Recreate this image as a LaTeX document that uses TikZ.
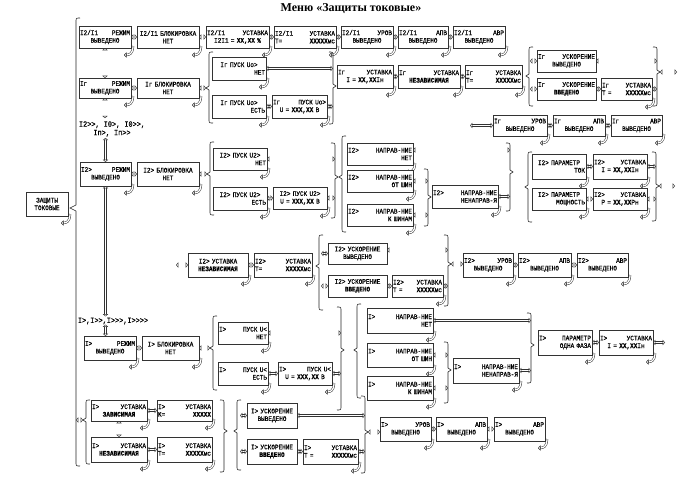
\documentclass[tikz,border=0pt]{standalone}
\usepackage{fontspec}
\setmainfont{Liberation Serif}
\newfontfamily\mono[FakeStretch=0.86,FakeBold=0.5]{Liberation Mono}
\usetikzlibrary{arrows.meta}
\newcommand{\bxfont}{\mono\fontsize{7}{7.6}\selectfont}
\tikzset{
 bx/.style={draw=black!80, line width=0.45pt, fill=white, inner xsep=1pt, inner ysep=0pt, outer sep=0pt, align=center, font=\bxfont},
 dbl/.style={draw=black!80, line width=0.4pt, double=white, double distance=1.7pt, arrows={Triangle[open,length=2.3pt,width=5.4pt,line width=0.4pt]-Triangle[open,length=2.3pt,width=5.4pt,line width=0.4pt]}},
 cdbl/.style={draw=black!85, line width=0.45pt, double=white, double distance=1.3pt, arrows={-Triangle[open,length=2.5pt,width=5pt,line width=0.45pt]}},
 brst/.style={draw=black!85, line width=0.6pt},
 lbl/.style={font=\mono\fontsize{8}{8.5}\selectfont, align=center, inner sep=0pt}
}
\newcommand{\bxn}[7]{%
 \pgfmathsetmacro\bxw{#4-#2}\pgfmathsetmacro\bxh{#5-#3}\pgfmathsetmacro\bxt{#4-#2-2}%
 \node[bx, minimum width=\bxw pt, minimum height=\bxh pt, text width=\bxt pt] (#1) at ({(#2+#4)/2},{(#3+#5)/2}) {#6\\#7};}
\newcommand{\curl}[1]{\draw[cdbl] ([shift={(2,-2)}]#1.south east) .. controls +(0,8) and +(5,0) .. ([shift={(-7,7)}]#1.south east);}
\newcommand{\bxc}[7]{\bxn{#1}{#2}{#3}{#4}{#5}{#6}{#7}\curl{#1}}
\newcommand{\lbrk}[5]{%
 \draw[brst] ({#1+4},#2) .. controls (#1,#2) .. (#1,{#2+4}) -- (#1,{#4-2}) -- ({#1-3},#4) -- (#1,{#4+2}) -- (#1,{#3-4}) .. controls (#1,#3) .. ({#1+4},#3);
 \coordinate (#5) at (#1,#4); \coordinate (#5t) at ({#1-3},#4);}
\newcommand{\rbrk}[5]{%
 \draw[brst] ({#1-4},#2) .. controls (#1,#2) .. (#1,{#2+4}) -- (#1,{#4-2}) -- ({#1+3},#4) -- (#1,{#4+2}) -- (#1,{#3-4}) .. controls (#1,#3) .. ({#1-4},#3);
 \coordinate (#5) at (#1,#4); \coordinate (#5t) at ({#1+3},#4);}
\begin{document}
\begin{tikzpicture}[x=1pt,y=-1pt]
\fill[white] (0,0) rectangle (686,479);
\useasboundingbox (0,0) rectangle (686,479);
\node[font=\bfseries\fontsize{12}{14}\selectfont, inner sep=0pt] (title) at (351,9) {Меню «Защиты токовые»};
% big brace
\draw[brst] (80,18) .. controls (76,18) .. (76,22) -- (76,205) -- (70,208) -- (76,211) -- (76,462) .. controls (76,466) .. (80,466);
\coordinate (bigl) at (76,420);
\bxc{zt}{26}{192}{68}{216}{ЗАЩИТЫ\hspace*{\fill}}{ТОКОВЫЕ\hspace*{\fill}}
% ---- I2/I1 row
\bxc{a1}{79}{26}{131}{48}{I2/I1\hfill РЕЖИМ}{ВЫВЕДЕНО}
\bxc{a2}{137}{26}{199}{48}{I2/I1 БЛОКИРОВКА}{НЕТ}
\bxc{a3}{206}{26}{269}{48}{I2/I1\hfill УСТАВКА}{I2I1 = \textbf{XX,XX} \%}
\bxc{a4}{274}{26}{336}{48}{I2/I1\hfill УСТАВКА}{T=\hfill\textbf{XXXXX}мс}
\bxc{a5}{341}{26}{393}{48}{I2/I1\hfill УРОВ}{ВЫВЕДЕНО}
\bxc{a6}{398}{26}{448}{48}{I2/I1\hfill АПВ}{ВЫВЕДЕНО}
\bxc{a7}{453}{26}{505}{48}{I2/I1\hfill АВР}{ВЫВЕДЕНО}
\foreach \p/\q in {a1/a2,a2/a3,a3/a4,a4/a5,a5/a6,a6/a7} \draw[dbl] (\p.east) -- (\q.west);
% ---- Ir rows
\bxc{b1}{79}{78}{131}{98}{Iг\hfill РЕЖИМ}{ВЫВЕДЕНО}
\bxc{b2}{137}{78}{199}{98}{Iг БЛОКИРОВКА}{НЕТ}
\draw[dbl] (a1.south) -- (b1.north);
\draw[dbl] (b1.east) -- (b2.west);
\lbrk{209}{52}{123}{88}{lb1}
\draw[dbl] (b2.east) -- (lb1t);
\bxc{b3}{212}{57}{266}{80}{Iг ПУСК Uo>}{\hspace*{\fill}НЕТ}
\bxc{b4}{212}{95}{266}{118}{Iг ПУСК Uo>}{\hspace*{\fill}ЕСТЬ}
\bxc{b5}{272}{95}{327}{118}{Iг\hfill ПУСК Uo>}{U = \textbf{XXX,XX} В}
\rbrk{333}{52}{124}{86}{rb1}
\draw[dbl] (b3.east) -- (b3.east -| rb1);
\draw[dbl] (b4.east) -- (b5.west);
\draw[dbl] (b5.east) -- (b5.east -| rb1);
\bxc{b6}{337}{65}{393}{88}{Iг\hfill УСТАВКА}{I = \textbf{XX,XX}Iн}
\bxc{b7}{398}{65}{460}{88}{Iг\hfill УСТАВКА}{\textbf{НЕЗАВИСИМАЯ}}
\bxc{b8}{465}{65}{522}{88}{Iг\hfill УСТАВКА}{T=\hfill\textbf{XXXXX}мс}
\draw[dbl] (b6.east) -- (b7.west);
\draw[dbl] (b7.east) -- (b8.west);
\lbrk{529}{47}{106}{76}{lb2}
\bxn{b9}{537}{50}{596}{72}{Iг\hfill УСКОРЕНИЕ}{ВЫВЕДЕНО}
\bxn{b10}{537}{78}{596}{100}{Iг\hfill УСКОРЕНИЕ}{\textbf{ВВЕДЕНО}}
\bxc{b11}{601}{78}{652}{100}{Iг\hfill УСТАВКА}{T =\hfill\textbf{XXXXX}мс}
\rbrk{657}{47}{106}{72}{rb2}
\draw[dbl] ([xshift=-7pt]b9.west) -- (b9.west);
\draw[dbl] ([xshift=-7pt]b10.west) -- (b10.west);
\draw[dbl] (b9.east) -- (b9.east -| rb2);
\draw[dbl] (b10.east) -- (b11.west);
\draw[dbl] (b11.east) -- (b11.east -| rb2);
\draw[dbl] (rb2t) -- ++(17,0);
\bxc{c1}{493}{115}{547}{136}{Iг\hfill УРОВ}{ВЫВЕДЕНО}
\bxc{c2}{553}{115}{605}{136}{Iг\hfill АПВ}{ВЫВЕДЕНО}
\bxc{c3}{611}{115}{662}{136}{Iг\hfill АВР}{ВЫВЕДЕНО}
\draw[dbl] ([xshift=-23pt]c1.west) -- (c1.west);
\draw[dbl] (c1.east) -- (c2.west);
\draw[dbl] (c2.east) -- (c3.west);
% ---- I2> block
\node[lbl] (t1) at (112,129) {I2>>, I0>, I0>>,\\Iп>, Iп>>};
\draw[dbl, shorten >=3pt] (b1.south) -- (b1.south |- t1.north);
\bxc{d1}{80}{162}{131}{186}{I2>\hfill РЕЖИМ}{ВЫВЕДЕНО}
\bxc{d2}{137}{162}{199}{186}{I2> БЛОКИРОВКА}{НЕТ}
\draw[dbl, shorten <=1pt] (t1.south -| d1.south) -- (d1.north);
\draw[dbl] (d1.east) -- (d2.west);
\lbrk{210}{142}{215}{174}{lb3}
\draw[dbl] (d2.east) -- (d2.east -| lb3t);
\bxc{d3}{213}{148}{267}{170}{I2> ПУСК U2>}{\hspace*{\fill}НЕТ}
\bxc{d4}{213}{187}{267}{210}{I2> ПУСК U2>}{\hspace*{\fill}ЕСТЬ}
\bxc{d5}{273}{187}{327}{209}{I2> ПУСК U2>}{U = \textbf{XXX,XX} В}
\rbrk{335}{143}{218}{177}{rb3}
\draw[dbl] (d3.east) -- (d3.east -| rb3);
\draw[dbl] (d4.east) -- (d5.west);
\draw[dbl] (d5.east) -- (d5.east -| rb3);
\lbrk{342}{136}{232}{177}{lb4}
\bxc{d6}{347}{143}{413}{165}{I2>\hfill НАПРАВ-НИЕ}{\hspace*{\fill}НЕТ}
\bxc{d7}{347}{170}{413}{192}{I2>\hfill НАПРАВ-НИЕ}{\hspace*{\fill}ОТ ШИН}
\bxc{d8}{347}{204}{413}{226}{I2>\hfill НАПРАВ-НИЕ}{\hspace*{\fill}К ШИНАМ}
\rbrk{428}{169}{226}{197}{rb4}
\draw[dbl] (d7.east) -- (d7.east -| rb4);
\draw[dbl] (d8.east) -- (d8.east -| rb4);
\bxc{d9}{432}{185}{498}{208}{I2>\hfill НАПРАВ-НИЕ}{\hspace*{\fill}НЕНАПРАВ-Я}
\rbrk{510}{143}{211}{172}{rb5}
\coordinate (d6a) at ([yshift=4pt]d6.east);
\draw[dbl] (d6a) -- (d6a -| rb5);
\draw[dbl] (d9.east) -- (d9.east -| rb5);
\lbrk{528}{152}{222}{187}{lb5}
\bxc{d10}{532}{154}{586}{179}{I2> ПАРАМЕТР}{\hspace*{\fill}ТОК}
\bxc{d11}{593}{154}{647}{179}{I2>\hfill УСТАВКА}{I = \textbf{XX,XX}Iн}
\bxc{d12}{532}{188}{586}{210}{I2> ПАРАМЕТР}{\hspace*{\fill}МОЩНОСТЬ}
\bxc{d13}{593}{188}{647}{210}{I2>\hfill УСТАВКА}{P = \textbf{XX,XX}Pн}
\rbrk{656}{152}{221}{186}{rb6}
\draw[dbl] (d10.east) -- (d11.west);
\draw[dbl] (d12.east) -- (d13.west);
\draw[dbl] (d11.east) -- (d11.east -| rb6);
\draw[dbl] (d13.east) -- (d13.east -| rb6);
\draw[dbl] (rb6t) -- ++(16,0);
% I2> ustavka row
\bxc{e1}{188}{253}{248}{277}{I2> УСТАВКА}{\textbf{НЕЗАВИСИМАЯ}}
\bxc{e2}{254}{253}{312}{277}{I2>\hfill УСТАВКА}{T=\hfill\textbf{XXXXX}мс}
\draw[dbl] ([xshift=-12pt]e1.west) -- (e1.west);
\draw[dbl] (e1.east) -- (e2.west);
\lbrk{319}{235}{310}{266}{lb6}
\bxn{e3}{328}{243}{387}{264}{I2> УСКОРЕНИЕ}{ВЫВЕДЕНО}
\bxn{e4}{328}{275}{387}{297}{I2> УСКОРЕНИЕ}{\textbf{ВВЕДЕНО}}
\bxc{e5}{392}{275}{443}{297}{I2>\hfill УСТАВКА}{T =\hfill\textbf{XXXXX}мс}
\rbrk{448}{235}{306}{264}{rb7}
\draw[dbl] ([xshift=-7pt]e3.west) -- (e3.west);
\draw[dbl] ([xshift=-7pt]e4.west) -- (e4.west);
\coordinate (e3a) at ([yshift=3.5pt]e3.east);
\draw[dbl] (e3a) -- (e3a -| rb7);
\draw[dbl] (e4.east) -- (e5.west);
\draw[dbl] (e5.east) -- (e5.east -| rb7);
\bxc{e6}{463}{253}{513}{277}{I2>\hfill УРОВ}{ВЫВЕДЕНО}
\bxc{e7}{518}{253}{571}{277}{I2>\hfill АПВ}{ВЫВЕДЕНО}
\bxc{e8}{577}{253}{628}{277}{I2>\hfill АВР}{ВЫВЕДЕНО}
\draw[dbl] (rb7t) -- (rb7t -| e6.west);
\draw[dbl] (e6.east) -- (e7.west);
\draw[dbl] (e7.east) -- (e8.west);
% ---- I> block
\node[lbl] (t2) at (113,321) {I>,I>>,I>>>,I>>>>};
\coordinate (cx) at (d1.south);
\draw[dbl, shorten >=1pt] (d1.south) -- (d1.south |- t2.north);
\bxc{f1}{84}{336}{136}{360}{I>\hfill РЕЖИМ}{ВЫВЕДЕНО}
\bxc{f2}{142}{336}{199}{360}{I> БЛОКИРОВКА}{НЕТ\hspace*{\fill}}
\draw[dbl] (t2.south -| cx) -- (f1.north -| cx);
\draw[dbl] (f1.east) -- (f2.west);
\lbrk{213}{316}{390}{348}{lb7}
\draw[dbl] (f2.east) -- (f2.east -| lb7t);
\bxc{f3}{218}{322}{268}{344}{I>\hfill ПУСК U<}{\hspace*{\fill}НЕТ}
\bxc{f4}{218}{362}{268}{385}{I>\hfill ПУСК U<}{\hspace*{\fill}ЕСТЬ}
\bxc{f5}{278}{362}{332}{385}{I>\hfill ПУСК U<}{U = \textbf{XXX,XX} В}
\rbrk{341}{307}{410}{350}{rb8}
\draw[dbl] (f3.east) -- (f3.east -| rb8);
\draw[dbl] (f4.east) -- (f5.west);
\draw[dbl] (f5.east) -- (f5.east -| rb8);
\lbrk{357}{304}{398}{350}{lb8}
\bxc{f6}{367}{308}{433}{333}{I>\hfill НАПРАВ-НИЕ}{\hspace*{\fill}НЕТ}
\bxc{f7}{367}{343}{433}{367}{I>\hfill НАПРАВ-НИЕ}{\hspace*{\fill}ОТ ШИН}
\bxc{f8}{367}{376}{433}{400}{I>\hfill НАПРАВ-НИЕ}{\hspace*{\fill}К ШИНАМ}
\rbrk{448}{342}{403}{370}{rb9}
\draw[dbl] (f7.east) -- (f7.east -| rb9);
\draw[dbl] (f8.east) -- (f8.east -| rb9);
\bxc{f9}{453}{358}{519}{383}{I>\hfill НАПРАВ-НИЕ}{\hspace*{\fill}НЕНАПРАВ-Я}
\rbrk{531}{313}{383}{345}{rb10}
\draw[dbl] (f6.east) -- (f6.east -| rb10);
\draw[dbl] (f9.east) -- (f9.east -| rb10);
\bxc{f10}{538}{330}{592}{355}{I>\hfill ПАРАМЕТР}{\hspace*{\fill}ОДНА ФАЗА}
\bxc{f11}{599}{330}{653}{355}{I>\hfill УСТАВКА}{I = \textbf{XX,XX}Iн}
\draw[dbl] (f10.east) -- (f11.west);
\draw[dbl] (f11.east) -- ++(12,0);
% ---- bottom group
\lbrk{86}{400}{464}{420}{lb9}
\draw[dbl] (bigl) -- (lb9t);
\bxc{g1}{91}{400}{147}{421}{I>\hfill УСТАВКА}{\textbf{ЗАВИСИМАЯ}}
\bxc{g2}{157}{400}{212}{421}{I>\hfill УСТАВКА}{K=\hfill\textbf{XXXXX}}
\bxc{g3}{91}{437}{147}{462}{I>\hfill УСТАВКА}{\textbf{НЕЗАВИСИМАЯ}}
\bxc{g4}{157}{437}{212}{462}{I>\hfill УСТАВКА}{T=\hfill\textbf{XXXXX}мс}
\draw[dbl] (g1.east) -- (g2.west);
\draw[dbl] (g3.east) -- (g4.west);
\draw[dbl] (g1.south) -- (g3.north);
\rbrk{224}{400}{472}{431}{rb11}
\lbrk{237}{400}{470}{431}{lb10}
\bxn{g5}{247}{403}{297}{428}{I> УСКОРЕНИЕ}{ВЫВЕДЕНО}
\bxn{g6}{247}{439}{297}{464}{I> УСКОРЕНИЕ}{\textbf{ВВЕДЕНО}}
\bxc{g7}{303}{439}{358}{464}{I>\hfill УСТАВКА}{T =\hfill\textbf{XXXXX}мс}
\rbrk{365}{396}{473}{432}{rb12}
\draw[dbl] ([xshift=-7pt]g5.west) -- (g5.west);
\draw[dbl] ([xshift=-7pt]g6.west) -- (g6.west);
\draw[dbl] (g5.east) -- (g5.east -| rb12);
\draw[dbl] (g6.east) -- (g7.west);
\draw[dbl] (g7.east) -- (g7.east -| rb12);
\bxc{g8}{380}{417}{431}{441}{I>\hfill УРОВ}{ВЫВЕДЕНО}
\bxc{g9}{436}{417}{487}{441}{I>\hfill АПВ}{ВЫВЕДЕНО}
\bxc{g10}{494}{417}{545}{441}{I>\hfill АВР}{ВЫВЕДЕНО}
\draw[dbl] (rb12t) -- (rb12t -| g8.west);
\draw[dbl] (g8.east) -- (g9.west);
\draw[dbl] (g9.east) -- (g10.west);
\end{tikzpicture}
\end{document}
